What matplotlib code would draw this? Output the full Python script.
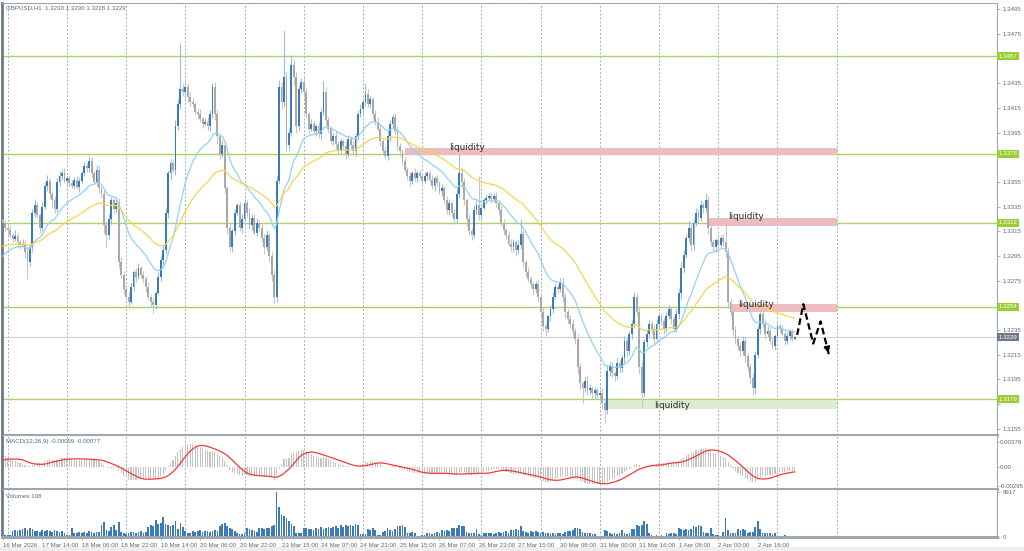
import numpy as np
import matplotlib
matplotlib.use("Agg")
import matplotlib.pyplot as plt
from matplotlib.patches import Rectangle
from matplotlib.transforms import blended_transform_factory

plt.rcParams['font.family'] = ['Liberation Sans', 'DejaVu Sans']

W, H = 1024, 551

# GBPUSD H1, closes in pips above 1.3000 (open = previous close), 16 Mar 22:00 .. 3 Apr 07:00
close_pips = [
    322, 318, 316, 312, 309, 311, 306, 304, 305, 298, 290, 302, 330, 336, 328, 318, 335, 352, 356, 345, 340, 333, 355, 360,
    362, 356, 358, 354, 352, 357, 351, 356, 362, 368, 366, 372, 362, 355, 365, 350, 345, 320, 312, 325, 340, 333, 338, 290,
    280, 268, 262, 258, 270, 282, 278, 285, 280, 276, 270, 262, 258, 255, 265, 278, 292, 300, 330, 362, 370, 365, 400, 418,
    430, 428, 432, 424, 420, 418, 412, 410, 406, 402, 404, 400, 410, 432, 410, 392, 378, 385, 350, 318, 302, 315, 330, 336,
    318, 325, 338, 330, 320, 326, 314, 322, 318, 310, 302, 312, 295, 280, 262, 356, 432, 420, 440, 385, 395, 450, 440, 400,
    430, 436, 428, 410, 398, 402, 396, 400, 394, 412, 428, 405, 398, 388, 392, 386, 380, 388, 384, 378, 390, 385, 380, 392,
    410, 414, 420, 426, 418, 422, 410, 404, 398, 388, 380, 376, 392, 402, 408, 396, 384, 380, 372, 365, 360, 356, 362, 358,
    362, 360, 356, 360, 362, 357, 352, 358, 354, 348, 350, 340, 332, 338, 330, 325, 345, 362, 355, 340, 325, 315, 312, 332,
    336, 328, 334, 340, 342, 344, 341, 344, 338, 332, 322, 316, 312, 305, 302, 306, 300, 304, 313, 290, 282, 276, 272, 268,
    272, 262, 250, 238, 236, 246, 252, 262, 270, 268, 273, 262, 250, 244, 240, 234, 228, 205, 192, 188, 194, 186, 188, 184,
    186, 182, 184, 176, 170, 202, 206, 200, 198, 208, 204, 212, 226, 218, 232, 240, 262, 250, 205, 184, 225, 232, 240, 236,
    228, 240, 246, 242, 236, 246, 252, 244, 236, 248, 265, 285, 296, 310, 318, 304, 322, 330, 326, 336, 334, 340, 318, 306,
    302, 308, 304, 310, 306, 298, 258, 250, 235, 228, 222, 218, 226, 214, 205, 196, 188, 215, 236, 248, 240, 232, 234, 226,
    222, 230, 238, 236, 232, 226, 230, 234, 228, 229,
]
# upper / lower shadow lengths in pips
wick_up = [
    3, 2, 4, 3, 2, 5, 3, 2, 4, 3, 4, 3, 3, 5, 3, 2, 4, 3, 5, 2, 3, 4, 3, 4,
    3, 4, 2, 3, 3, 2, 4, 3, 2, 3, 2, 4, 3, 2, 4, 3, 2, 5, 3, 4, 3, 2, 3, 4,
    4, 3, 2, 4, 3, 2, 3, 4, 2, 3, 3, 4, 2, 3, 2, 4, 3, 5, 4, 3, 4, 3, 5, 4,
    38, 5, 4, 3, 4, 3, 2, 3, 4, 2, 3, 4, 3, 3, 4, 3, 2, 4, 3, 2, 4, 3, 3, 2,
    3, 4, 3, 2, 4, 3, 3, 4, 2, 3, 3, 4, 2, 3, 4, 5, 6, 4, 38, 5, 4, 8, 5, 4,
    4, 3, 4, 3, 2, 4, 3, 2, 4, 3, 9, 4, 3, 2, 3, 4, 2, 3, 2, 4, 3, 2, 3, 3,
    3, 4, 3, 9, 4, 3, 2, 3, 4, 3, 2, 3, 4, 3, 2, 3, 4, 3, 2, 3, 2, 3, 2, 4,
    2, 3, 2, 3, 2, 3, 4, 2, 3, 2, 3, 2, 4, 3, 2, 3, 5, 16, 4, 3, 2, 4, 3, 4,
    4, 24, 3, 2, 3, 2, 3, 2, 3, 2, 4, 3, 2, 3, 4, 3, 2, 4, 12, 3, 2, 4, 3, 2,
    3, 4, 3, 4, 3, 2, 3, 4, 3, 2, 4, 5, 3, 2, 3, 4, 3, 4, 3, 2, 3, 4, 3, 2,
    3, 2, 3, 4, 3, 5, 4, 3, 2, 4, 3, 3, 4, 3, 2, 3, 4, 3, 4, 5, 3, 4, 3, 2,
    3, 4, 3, 2, 3, 4, 3, 2, 3, 4, 3, 5, 4, 3, 5, 4, 3, 4, 3, 4, 3, 6, 4, 3,
    3, 2, 3, 2, 3, 16, 4, 3, 4, 3, 2, 3, 4, 3, 2, 3, 4, 3, 3, 2, 4, 3, 4, 3,
    3, 2, 3, 2, 3, 2, 3, 2, 2, 1,
]
wick_dn = [
    2, 3, 4, 2, 3, 2, 4, 3, 2, 5, 14, 3, 4, 3, 2, 4, 3, 2, 4, 3, 5, 3, 2, 3,
    3, 2, 4, 3, 2, 3, 2, 4, 3, 2, 3, 3, 4, 2, 3, 4, 3, 6, 10, 3, 4, 3, 2, 5,
    3, 4, 3, 5, 2, 3, 4, 2, 3, 3, 4, 3, 4, 6, 3, 2, 3, 4, 3, 4, 5, 3, 4, 3,
    4, 3, 5, 4, 3, 2, 3, 4, 2, 3, 2, 3, 4, 3, 5, 6, 4, 3, 4, 5, 3, 4, 3, 2,
    3, 4, 2, 3, 3, 4, 2, 3, 3, 4, 5, 3, 4, 5, 5, 4, 3, 6, 4, 5, 4, 3, 6, 5,
    4, 3, 5, 3, 4, 2, 3, 4, 3, 5, 3, 4, 3, 2, 3, 4, 3, 2, 3, 4, 3, 3, 2, 4,
    3, 2, 4, 3, 2, 3, 4, 3, 2, 4, 3, 2, 3, 4, 3, 2, 3, 4, 3, 2, 3, 4, 3, 2,
    3, 2, 3, 2, 3, 2, 3, 4, 2, 3, 4, 3, 3, 4, 3, 4, 3, 3, 5, 4, 6, 3, 4, 2,
    3, 4, 3, 2, 3, 2, 3, 2, 3, 4, 3, 4, 3, 2, 3, 4, 5, 3, 3, 4, 3, 2, 3, 4,
    3, 4, 5, 4, 6, 3, 4, 3, 2, 3, 2, 4, 5, 4, 3, 5, 4, 6, 5, 12, 3, 4, 3, 5,
    4, 3, 4, 5, 10, 3, 4, 3, 4, 3, 4, 3, 4, 5, 3, 4, 3, 4, 6, 11, 3, 4, 3, 4,
    4, 3, 4, 3, 4, 3, 2, 4, 3, 3, 4, 5, 4, 3, 4, 5, 4, 3, 4, 3, 4, 3, 5, 3,
    3, 4, 3, 2, 3, 4, 5, 4, 5, 4, 3, 4, 3, 5, 4, 5, 6, 4, 3, 4, 3, 4, 3, 2,
    2, 3, 2, 3, 2, 3, 2, 3, 2, 1,
]
volume = [
    300, 400, 500, 400, 1300, 1500, 1400, 1600, 1700, 1900, 1500, 2000, 1800, 1400, 1300, 1200, 1500, 1400, 1600, 1300, 1100, 1500, 1400, 1200,
    1300, 1000, 500, 400, 2100, 1000, 900, 1100, 1000, 1200, 900, 1300, 1100, 1000, 1200, 1100, 2600, 3300, 1500, 1400, 2300, 2700, 1600, 3300,
    1200, 800, 700, 1000, 1100, 1200, 1000, 1100, 1300, 1000, 1200, 2300, 2700, 2500, 3700, 2800, 3200, 4400, 3000, 2600, 2400, 2700, 3600, 1800,
    3100, 2200, 1300, 1000, 900, 1400, 1200, 1300, 1500, 1100, 1300, 1400, 1200, 1300, 1500, 1400, 2500, 2800, 3200, 2500, 2100, 1800, 1300, 900,
    700, 600, 800, 1900, 1700, 1500, 1300, 1100, 1900, 2000, 1700, 2100, 2000, 2400, 2600, 9917, 6700, 4900, 4600, 4300, 3500, 2900, 2400, 1000,
    900, 800, 2100, 2000, 1800, 1700, 1500, 2000, 1800, 2200, 1700, 2000, 2300, 1900, 2200, 2500, 2100, 2600, 2300, 2700, 2400, 2700, 2500, 2800,
    2600, 700, 600, 750, 1800, 1500, 2000, 1600, 500, 450, 1100, 1400, 2100, 1600, 1300, 1800, 2500, 2400, 2600, 2300, 1000, 900, 1100, 800,
    300, 300, 350, 400, 800, 1000, 700, 900, 1100, 800, 1500, 1300, 1600, 1400, 1900, 2100, 2000, 2600, 2500, 2400, 1200, 900, 800, 1000,
    1700, 600, 500, 900, 800, 1000, 900, 700, 800, 1100, 1000, 1200, 1300, 1000, 1500, 1600, 1700, 1500, 2500, 1300, 1200, 1000, 1300, 1200,
    1400, 1100, 1000, 1200, 900, 1000, 700, 800, 600, 900, 800, 700, 1200, 1300, 1400, 1600, 1900, 2000, 1800, 1200, 1000, 800, 900, 700,
    600, 300, 250, 300, 1500, 1400, 800, 700, 900, 600, 800, 1500, 1000, 700, 800, 1700, 1800, 2600, 2400, 2700, 3600, 2800, 1000, 400,
    300, 350, 300, 400, 300, 800, 700, 1000, 900, 600, 1900, 1800, 1600, 1800, 1500, 1700, 2400, 2300, 2600, 2500, 1200, 1000, 900, 1900,
    600, 500, 400, 300, 1200, 4200, 1500, 900, 800, 900, 1700, 1500, 1800, 1600, 1000, 1200, 1200, 2300, 3600, 1700, 1000, 900, 800, 900,
    700, 800, 150, 200, 150, 400, 100, 150, 100, 108,
]
first_open = 1.3325

# indicator values at the first visible bar (history before the window)
ma_fast_seed, ma_slow_seed = 1.3292, 1.3302
ema12_seed, ema26_seed, signal_seed = 1.3325, 1.3306, 0.0009

levels = [1.3457, 1.3378, 1.3322, 1.3254, 1.3179]
last_price = 1.3229

# liquidity zones: start bar, end bar, low, high, label position
zone_start = [163, 286, 295, 244]
zone_end = [338, 338, 338, 338]
zone_low = [1.33768, 1.33196, 1.32498, 1.31708]
zone_high = [1.33825, 1.33260, 1.32560, 1.31783]
zone_label_bar = [181, 294, 298, 264]
zone_label_price = [1.3383, 1.3327, 1.3256, 1.3174]
zone_color = ['#ecbcbe', '#ecbcbe', '#ecbcbe', '#dcecd0']

# projected path drawn on the chart
proj_bars = [322, 324.5, 328.5, 331.5, 335]
proj_price = [1.3231, 1.3256, 1.3224, 1.3242, 1.3214]

label_bars = [0, 16, 32, 48, 64, 80, 96, 113, 129, 145, 161, 177, 193, 209, 226, 242, 258, 274, 290, 306]
label_texts = ['16 Mar 2026', '17 Mar 14:00', '18 Mar 06:00', '18 Mar 22:00', '19 Mar 14:00', '20 Mar 06:00',
               '20 Mar 22:00', '23 Mar 15:00', '24 Mar 07:00', '24 Mar 23:00', '25 Mar 15:00', '26 Mar 07:00',
               '26 Mar 23:00', '27 Mar 15:00', '30 Mar 08:00', '31 Mar 00:00', '31 Mar 16:00', '1 Apr 08:00',
               '2 Apr 00:00', '2 Apr 16:00']
midnight_bars = [2, 26, 50, 74, 98, 122, 146, 170, 194, 218, 242, 266, 290, 314, 338]
price_ticks = [1.3155 + 0.002 * k for k in range(18)]

# ---- derived series ----
n = len(close_pips)
idx = np.arange(n)
close = 1.3 + np.array(close_pips) / 10000
opn = np.r_[first_open, close[:-1]]
high = np.maximum(opn, close) + np.array(wick_up) / 10000
low = np.minimum(opn, close) - np.array(wick_dn) / 10000


def ema(x, period, seed):
    a = 2.0 / (period + 1)
    out, v = [], seed
    for p in x:
        v = v + a * (p - v)
        out.append(v)
    return np.array(out)


ma_fast = ema(close, 20, ma_fast_seed)
ma_slow = ema(close, 50, ma_slow_seed)
macd = ema(close, 12, ema12_seed) - ema(close, 26, ema26_seed)
padded = np.r_[np.full(8, signal_seed), macd]
signal = np.convolve(padded, np.ones(9) / 9, mode='valid')

# ---- figure ----
fig = plt.figure(figsize=(W / 100, H / 100), dpi=100, facecolor='white')
fig.patches.append(Rectangle((0, 0), 1, 4 / H, transform=fig.transFigure, fc='#eeeeee', ec='none'))


def px_axes(x0, y0, x1, y1):
    return fig.add_axes([x0 / W, 1 - y1 / H, (x1 - x0) / W, (y1 - y0) / H])


ax = px_axes(2, 3, 997, 435)
axm = px_axes(2, 435, 997, 489)
axv = px_axes(2, 489, 997, 537)

frame = '#9ea7b0'
txt = '#5b6876'
fs = 4.4
for a in (ax, axm, axv):
    a.set_xlim(-0.31, 403)
    a.set_facecolor('white')
    for s in ('top', 'right'):
        a.spines[s].set_color(frame)
        a.spines[s].set_linewidth(0.8)
    a.spines['left'].set_color('#6f7a85')
    a.spines['left'].set_linewidth(2)
    a.spines['bottom'].set_color(frame)
    a.spines['bottom'].set_linewidth(2.2)
    a.yaxis.tick_right()
    a.tick_params(axis='y', length=2.5, width=0.6, color=frame, labelsize=fs, labelcolor=txt, pad=1.5)
    a.tick_params(axis='x', bottom=False, labelbottom=False)
    for b in midnight_bars:
        a.axvline(b, color='#a3abb3', lw=0.7, ls=(0, (2, 2)), zorder=0.5)

# main price panel
ax.set_ylim(1.31499, 1.35001)
ax.set_yticks(price_ticks)
ax.set_yticklabels(['' if min(abs(p - q) for q in levels) < 0.00045 else f'{p:.4f}' for p in price_ticks])

for p in levels:
    ax.axhline(p, color='#aad266', lw=1.0, zorder=1)
ax.axhline(last_price, color='#d2d2d2', lw=0.8, zorder=1)

for x0, x1, lo, hi, c in zip(zone_start, zone_end, zone_low, zone_high, zone_color):
    ax.add_patch(Rectangle((x0, lo), x1 - x0, hi - lo, fc=c, ec='none', zorder=1.2))
for xb, yp in zip(zone_label_bar, zone_label_price):
    ax.text(xb, yp, 'liquidity', fontsize=6.4, color='#2e2e2e', va='center', ha='left',
            family=['DejaVu Sans'], zorder=6)

bull = close > opn
body_col = np.where(bull, '#3c7bb8', '#a9a9a9')
wick_col = np.where(bull, '#9dbcd9', '#c6c6c6')
ax.vlines(idx, low, high, colors=wick_col, lw=0.8, zorder=2)
ax.bar(idx, np.maximum(np.abs(close - opn), 0.00003), bottom=np.minimum(opn, close),
       width=0.75, color=body_col, lw=0, zorder=3)

ax.plot(idx, ma_fast, color='#93d2f2', lw=0.9, zorder=4)
ax.plot(idx, ma_slow, color='#f6d64e', lw=0.9, zorder=4)

ax.plot(proj_bars, proj_price, color='black', lw=1.6, ls=(0, (3, 1.6)), zorder=7)
ax.annotate('', xy=(proj_bars[-1], proj_price[-1]),
            xytext=(proj_bars[-2] + 0.7 * (proj_bars[-1] - proj_bars[-2]),
                    proj_price[-2] + 0.7 * (proj_price[-1] - proj_price[-2])),
            arrowprops=dict(arrowstyle='-|>', color='black', lw=1.2, mutation_scale=9), zorder=7)

blend = blended_transform_factory(ax.transAxes, ax.transData)
for p in levels:
    ax.text(1.0015, p, f'{p:.4f}', transform=blend, fontsize=fs, color='white', va='center', ha='left',
            bbox=dict(boxstyle='square,pad=0.25', fc='#9acd32', ec='none'), clip_on=False, zorder=10)
ax.text(1.0015, last_price, f'{last_price:.4f}', transform=blend, fontsize=fs, color='white', va='center',
        ha='left', bbox=dict(boxstyle='square,pad=0.25', fc='#6e7884', ec='none'), clip_on=False, zorder=10)

ax.text(4 / 995, 1 - 4.5 / 432, 'GBPUSD,H1  1.3230 1.3230 1.3228 1.3229', transform=ax.transAxes,
        fontsize=fs, color=txt, va='center', ha='left')

# MACD panel
axm.set_ylim(-0.00337, 0.00479)
axm.bar(idx, macd, width=0.45, color='#c3c3c3', lw=0, zorder=2)
axm.plot(idx, signal, color='#f03a3a', lw=0.9, zorder=3)
axm.set_yticks([0.00378, 0.0, -0.00295])
axm.set_yticklabels(['0.00378', '0.00', '-0.00295'])
axm.tick_params(axis='y', length=1.5, pad=0.6)
axm.text(4 / 995, 1 - 7 / 54, 'MACD(12,26,9) -0.00059 -0.00077', transform=axm.transAxes,
         fontsize=fs, color=txt, va='center', ha='left')

# Volumes panel
axv.set_ylim(0, 10690)
axv.bar(idx, volume, width=0.7, color='#3c7bb8', lw=0, zorder=2)
axv.set_yticks([9917, 0])
axv.set_yticklabels(['9917', '0'])
axv.text(4 / 995, 1 - 7 / 48, 'Volumes 108', transform=axv.transAxes,
         fontsize=fs, color=txt, va='center', ha='left')
axv.set_xticks(label_bars)
axv.set_xticklabels(label_texts)
axv.tick_params(axis='x', bottom=True, labelbottom=True, length=2.5, width=0.6, color=frame,
                labelsize=fs, labelcolor=txt, pad=1.5)
for t in axv.get_xticklabels():
    t.set_ha('left')

fig.savefig('out.png', dpi=100, facecolor='white')
